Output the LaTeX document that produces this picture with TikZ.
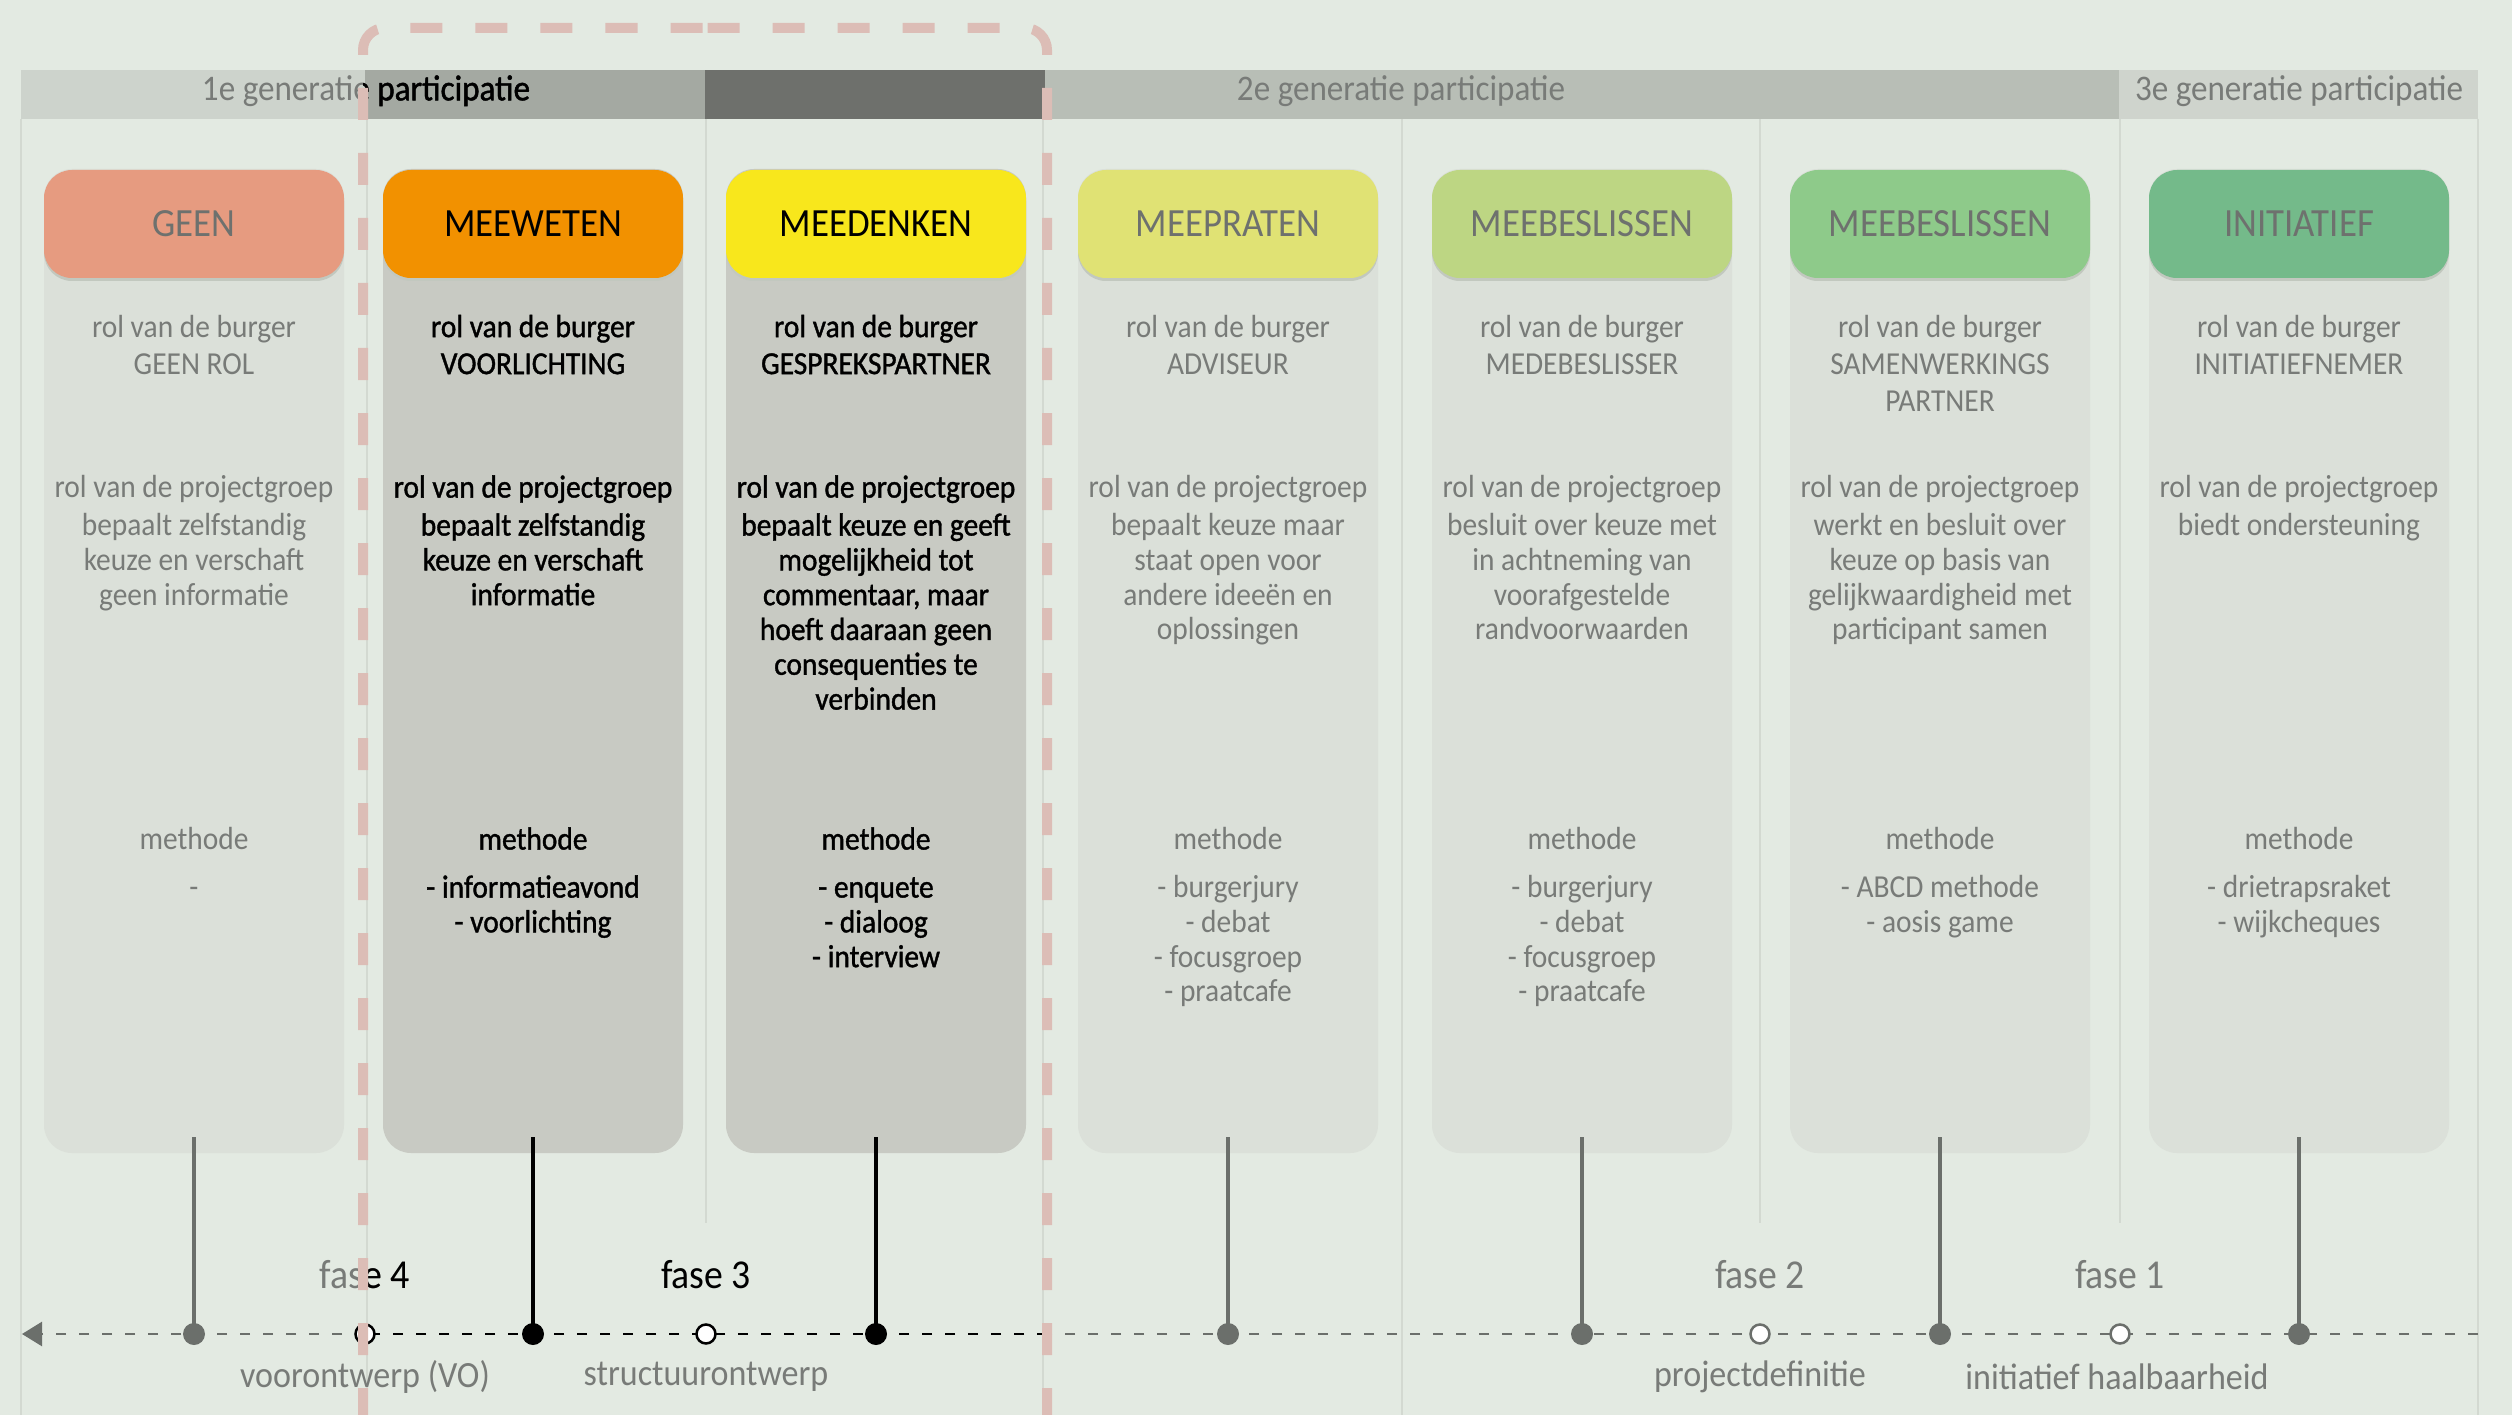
\documentclass[tikz,border=0pt]{standalone}
\usepackage{fontspec}
\setmainfont{Carlito}[FakeStretch=0.92]
\newfontfamily\boldish{Carlito}[FakeStretch=0.92,FakeBold=1.2]
\usetikzlibrary{arrows.meta}
\definecolor{bg}{HTML}{E3EAE2}
\definecolor{hdrA}{HTML}{CDD3CC}
\definecolor{hdrB}{HTML}{A4A9A2}
\definecolor{hdrC}{HTML}{6E706C}
\definecolor{hdrD}{HTML}{B8BEB6}
\definecolor{hdrE}{HTML}{CFD4CD}
\definecolor{bodyL}{HTML}{DBE0D9}
\definecolor{bodyD}{HTML}{C8CAC3}
\definecolor{txtG}{HTML}{787B78}
\definecolor{titG}{HTML}{6E716E}
\definecolor{stemG}{HTML}{6B6F6B}
\definecolor{dashR}{HTML}{DCBDB6}
\definecolor{divL}{HTML}{D3D9D1}
\definecolor{shadowC}{HTML}{C2C8BF}
\definecolor{cGeen}{HTML}{E69B80}
\definecolor{cMeeweten}{HTML}{F29100}
\definecolor{cMeedenken}{HTML}{F8E71C}
\definecolor{cMeepraten}{HTML}{E0E274}
\definecolor{cMbA}{HTML}{BDD683}
\definecolor{cMbB}{HTML}{8ECA8A}
\definecolor{cInit}{HTML}{74BA8A}
\tikzset{
  bodybox/.style={rounded corners=28, minimum width=300, minimum height=984, inner sep=0},
  titlebox/.style={rounded corners=28, minimum width=300, minimum height=108, inner sep=0, font=\fontsize{40}{40}\selectfont},
  tshadow/.style={rounded corners=28, minimum width=300, minimum height=108, inner sep=0, fill=shadowC},
  gtxt/.style={text=txtG, align=center, inner sep=0, anchor=north, font=\fontsize{32}{34.8}\selectfont},
  gburg/.style={gtxt, font=\fontsize{32}{37}\selectfont},
  btxt/.style={gtxt, text=black, font=\boldish\fontsize{32}{34.8}\selectfont},
  bburg/.style={btxt, font=\boldish\fontsize{32}{37}\selectfont},
  hdrtxt/.style={inner sep=0, font=\fontsize{36}{36}\selectfont},
  fasetxt/.style={inner sep=0, font=\fontsize{41}{41}\selectfont},
  fasesub/.style={inner sep=0, text=txtG, font=\fontsize{37}{37}\selectfont},
  divline/.style={divL, line width=1.5},
  gstem/.style={stemG, line width=4},
  bstem/.style={black, line width=4},
  gdot/.style={circle, fill=stemG, minimum size=22, inner sep=0},
  bdot/.style={gdot, fill=black},
  odot/.style={circle, draw=stemG, fill=white, line width=2.5, minimum size=19, inner sep=0},
  tl/.style={line width=2.5, dash pattern=on 10 off 13},
  hframe/.style={dashR, line width=10, dash pattern=on 32 off 33, rounded corners=22},
}
\begin{document}
\begin{tikzpicture}[x=1pt,y=-1pt]
\useasboundingbox (0,0) rectangle (2512,1415);
\fill[bg] (0,0) rectangle (2512,1415);
% header bar
\fill[hdrA] (21,70) rectangle (365,119);
\fill[hdrB] (365,70) rectangle (705,119);
\fill[hdrC] (705,70) rectangle (1045,119);
\fill[hdrD] (1045,70) rectangle (2119,119);
\fill[hdrE] (2119,70) rectangle (2478,119);
% dividers
\foreach \x in {21,367,1043,1402,2478} \draw[divline] (\x,119) -- (\x,1415);
\foreach \x in {706,1760,2120} \draw[divline] (\x,119) -- (\x,1223);
% header texts
\node[hdrtxt, text=txtG] (g1) at (366,91) {1e generatie participatie};
\begin{scope}
\clip (363,28) rectangle (1047,1425);
\node[hdrtxt, text=black, font=\boldish\fontsize{36}{36}\selectfont] (g1b) at (366,91) {1e generatie participatie};
\end{scope}
\node[hdrtxt, text=txtG] (g2) at (1401,91) {2e generatie participatie};
\node[hdrtxt, text=txtG] (g3) at (2299,91) {3e generatie participatie};
% column bodies
\node[bodybox, fill=bodyL] (b1) at (194,661) {};
\node[bodybox, fill=bodyD] (b2) at (533,661) {};
\node[bodybox, fill=bodyD] (b3) at (876,661) {};
\node[bodybox, fill=bodyL] (b4) at (1228,661) {};
\node[bodybox, fill=bodyL] (b5) at (1582,661) {};
\node[bodybox, fill=bodyL] (b6) at (1940,661) {};
\node[bodybox, fill=bodyL] (b7) at (2299,661) {};
% title shadows
\foreach \x in {194,533,876,1228,1582,1940,2299} \node[tshadow] at (\x,227) {};
% titles
\node[titlebox, fill=cGeen, text=titG] (h1) at (194,224) {GEEN};
\node[titlebox, fill=cMeeweten, text=black] (h2) at (533,224) {MEEWETEN};
\node[titlebox, fill=cMeedenken, text=black] (h3) at (876,224) {MEEDENKEN};
\node[titlebox, fill=cMeepraten, text=titG] (h4) at (1228,224) {MEEPRATEN};
\node[titlebox, fill=cMbA, text=titG] (h5) at (1582,224) {MEEBESLISSEN};
\node[titlebox, fill=cMbB, text=titG] (h6) at (1940,224) {MEEBESLISSEN};
\node[titlebox, fill=cInit, text=titG] (h7) at (2299,224) {INITIATIEF};
% column 1
\node[gburg] (r1) at (194,311) {\strut rol van de burger\\GEEN ROL};
\node[gtxt] (p1) at (194,473) {\strut rol van de projectgroep};
\node[gtxt] (q1) at (194,511) {\strut bepaalt zelfstandig\\keuze en verschaft\\geen informatie};
\node[gtxt] (m1) at (194,825) {\strut methode};
\node[gtxt] (l1) at (194,873) {\strut -};
% column 2
\node[bburg] (r2) at (533,311) {\strut rol van de burger\\VOORLICHTING};
\node[btxt] (p2) at (533,473) {\strut rol van de projectgroep};
\node[btxt] (q2) at (533,511) {\strut bepaalt zelfstandig\\keuze en verschaft\\informatie};
\node[btxt] (m2) at (533,825) {\strut methode};
\node[btxt] (l2) at (533,873) {\strut - informatieavond\\- voorlichting};
% column 3
\node[bburg] (r3) at (876,311) {\strut rol van de burger\\GESPREKSPARTNER};
\node[btxt] (p3) at (876,473) {\strut rol van de projectgroep};
\node[btxt] (q3) at (876,511) {\strut bepaalt keuze en geeft\\mogelijkheid tot\\commentaar, maar\\hoeft daaraan geen\\consequenties te\\verbinden};
\node[btxt] (m3) at (876,825) {\strut methode};
\node[btxt] (l3) at (876,873) {\strut - enquete\\- dialoog\\- interview};
% column 4
\node[gburg] (r4) at (1228,311) {\strut rol van de burger\\ADVISEUR};
\node[gtxt] (p4) at (1228,473) {\strut rol van de projectgroep};
\node[gtxt] (q4) at (1228,511) {\strut bepaalt keuze maar\\staat open voor\\andere ideeën en\\oplossingen};
\node[gtxt] (m4) at (1228,825) {\strut methode};
\node[gtxt] (l4) at (1228,873) {\strut - burgerjury\\- debat\\- focusgroep\\- praatcafe};
% column 5
\node[gburg] (r5) at (1582,311) {\strut rol van de burger\\MEDEBESLISSER};
\node[gtxt] (p5) at (1582,473) {\strut rol van de projectgroep};
\node[gtxt] (q5) at (1582,511) {\strut besluit over keuze met\\in achtneming van\\voorafgestelde\\randvoorwaarden};
\node[gtxt] (m5) at (1582,825) {\strut methode};
\node[gtxt] (l5) at (1582,873) {\strut - burgerjury\\- debat\\- focusgroep\\- praatcafe};
% column 6
\node[gburg] (r6) at (1940,311) {\strut rol van de burger\\SAMENWERKINGS\\PARTNER};
\node[gtxt] (p6) at (1940,473) {\strut rol van de projectgroep};
\node[gtxt] (q6) at (1940,511) {\strut werkt en besluit over\\keuze op basis van\\gelijkwaardigheid met\\participant samen};
\node[gtxt] (m6) at (1940,825) {\strut methode};
\node[gtxt] (l6) at (1940,873) {\strut - ABCD methode\\- aosis game};
% column 7
\node[gburg] (r7) at (2299,311) {\strut rol van de burger\\INITIATIEFNEMER};
\node[gtxt] (p7) at (2299,473) {\strut rol van de projectgroep};
\node[gtxt] (q7) at (2299,511) {\strut biedt ondersteuning};
\node[gtxt] (m7) at (2299,825) {\strut methode};
\node[gtxt] (l7) at (2299,873) {\strut - drietrapsraket\\- wijkcheques};
% timeline
\coordinate (tR) at (2478,1334);
\coordinate (tM) at (1047,1334);
\coordinate (tL) at (365,1334);
\coordinate (tA) at (22,1334);
\draw[tl, stemG] (tR) -- (tM);
\draw[tl, black] (tM) -- (tL);
\draw[tl, stemG, -{Triangle[length=20,width=24]}] (tL) -- (tA);
% stems
\foreach \i/\x in {1/194,4/1228,5/1582,6/1940,7/2299} {
  \coordinate (t\i) at (\x,1137);
  \node[gdot] (d\i) at (\x,1334) {};
  \draw[gstem] (t\i) -- (d\i.center);
}
\foreach \i/\x in {2/533,3/876} {
  \coordinate (t\i) at (\x,1137);
  \node[bdot] (d\i) at (\x,1334) {};
  \draw[bstem] (t\i) -- (d\i.center);
}
% phase markers
\node[odot, draw=black] (o4) at (365,1334) {};
\node[odot, draw=black] (o3) at (706,1334) {};
\node[odot] (o2) at (1760,1334) {};
\node[odot] (o1) at (2120,1334) {};
\node[fasetxt, text=txtG] (f4) at (365,1275) {fase 4};
\begin{scope}
\clip (363,28) rectangle (1047,1425);
\node[fasetxt, text=black] (f4b) at (365,1275) {fase 4};
\end{scope}
\node[fasetxt, text=black] (f3) at (706,1275) {fase 3};
\node[fasetxt, text=txtG] (f2) at (1760,1275) {fase 2};
\node[fasetxt, text=txtG] (f1) at (2120,1275) {fase 1};
\node[fasesub] (v4) at (365,1377) {voorontwerp (VO)};
\node[fasesub] (v3) at (706,1377) {structuurontwerp};
\node[fasesub] (v2) at (1760,1377) {projectdefinitie};
\node[fasesub] (v1) at (2117,1377) {initiatief haalbaarheid};
% highlight frame
\draw[hframe] (363,1420) -- (363,28) -- (705,28);
\draw[hframe] (1047,1420) -- (1047,28) -- (705,28);
\end{tikzpicture}
\end{document}
